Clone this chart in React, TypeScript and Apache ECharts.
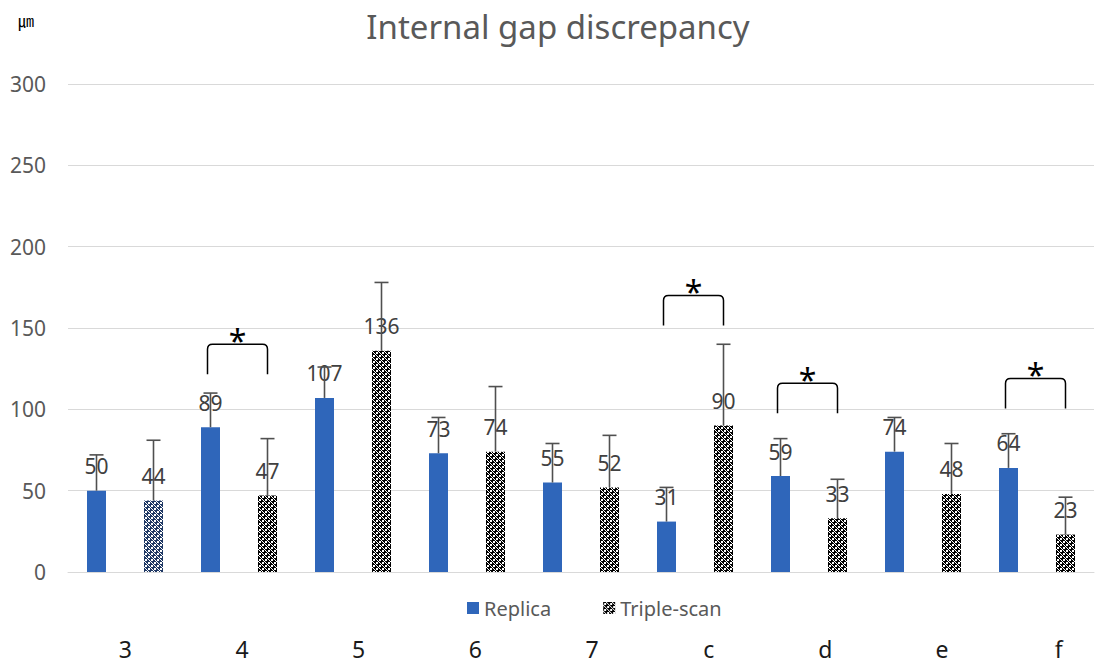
import React, { useEffect, useRef } from "react";
import * as echarts from "echarts";

const categories = ["3", "4", "5", "6", "7", "c", "d", "e", "f"];
const replica = [50, 89, 107, 73, 55, 31, 59, 74, 64];
const tripleScan = [44, 47, 136, 74, 52, 90, 33, 48, 23];
const replicaSD = [22, 21, 19, 22, 24, 21, 23, 21, 21];
const tripleScanSD = [37, 35, 42, 40, 32, 50, 24, 31, 23];
const sigIndex = [1, 5, 6, 8];
const sigBracketTop = [140, 170, 116, 119];
const yMin = 0;
const yMax = 300;
const yStep = 50;

const BAR_W = 19;
const FONT = "'Noto Sans', 'Open Sans', sans-serif";

function makePattern(ink: string): HTMLCanvasElement {
  const c = document.createElement("canvas");
  c.width = 6;
  c.height = 6;
  const ctx = c.getContext("2d")!;
  ctx.fillStyle = ink;
  ctx.fillRect(0, 0, 6, 6);
  ctx.fillStyle = "#ffffff";
  const holes = [
    [1, 1], [2, 1], [1, 2], [2, 2],
    [4, 4], [5, 4], [4, 5], [5, 5],
    [4, 1], [1, 4], [0, 3], [3, 0], [5, 2], [2, 5],
  ];
  for (const [x, y] of holes) ctx.fillRect(x, y, 1, 1);
  return c;
}

export default function App() {
  const ref = useRef<HTMLDivElement>(null);
  useEffect(() => {
    if (!ref.current) return;
    const chart = echarts.init(ref.current, undefined, { renderer: "svg" });
    const blackPat = makePattern("#000000");
    const navyPat = makePattern("#1F3864");
    const offset = BAR_W * 1.5;

    const errData: number[][] = [];
    replica.forEach((v, i) => errData.push([i, v, v + replicaSD[i], -1]));
    tripleScan.forEach((v, i) => errData.push([i, v, v + tripleScanSD[i], 1]));

    const bracketData = sigIndex.map((idx, k) => [idx, sigBracketTop[k]]);

    const option: any = {
      animation: false,
      backgroundColor: "#ffffff",
      title: {
        text: "Internal gap discrepancy",
        left: 553,
        textAlign: "center",
        top: 5,
        textStyle: { fontFamily: FONT, fontSize: 33, fontWeight: "normal", color: "#595959" },
      },
      graphic: [
        {
          type: "text",
          left: 18,
          top: 12,
          style: { text: "㎛", fontSize: 16, fill: "#000000", fontFamily: "'Noto Sans CJK KR', sans-serif" },
        },
      ],
      legend: {
        data: ["Replica", "Triple-scan"],
        left: 462,
        top: 593,
        itemWidth: 12,
        itemHeight: 12,
        itemGap: 52,
        icon: "rect",
        textStyle: { fontFamily: FONT, fontSize: 20, color: "#595959" },
      },
      grid: [
        { left: 68, right: 2, top: 84, bottom: 95 },
        { left: 67, width: 1050, top: 84, bottom: 95, outerBoundsMode: "none" },
      ],
      xAxis: [
        {
          type: "category",
          gridIndex: 0,
          data: categories,
          axisLine: { show: true, lineStyle: { color: "#D9D9D9" } },
          axisTick: { show: false },
          axisLabel: { show: false },
        },
        {
          type: "category",
          gridIndex: 1,
          data: categories,
          axisLine: { show: false },
          axisTick: { show: false },
          axisLabel: { fontFamily: FONT, fontSize: 23, color: "#1a1a1a", margin: 65 },
        },
      ],
      yAxis: [
        {
          type: "value",
          gridIndex: 0,
          min: yMin,
          max: yMax,
          interval: yStep,
          axisLine: { show: false },
          axisTick: { show: false },
          splitLine: { lineStyle: { color: "#D9D9D9", width: 1 } },
          axisLabel: { fontFamily: FONT, fontSize: 21, color: "#595959", margin: 22 },
        },
        { type: "value", gridIndex: 1, min: yMin, max: yMax, show: false },
      ],
      series: [
        {
          name: "Replica",
          type: "bar",
          barWidth: BAR_W,
          barGap: "200%",
          data: replica,
          itemStyle: { color: "#2F66BA" },
          label: {
            show: true,
            position: "top",
            distance: 14,
            fontFamily: FONT,
            fontSize: 21,
            color: "#404040",
          },
        },
        {
          name: "Triple-scan",
          type: "bar",
          barWidth: BAR_W,
          barGap: "200%",
          data: tripleScan.map((v, i) =>
            i === 0
              ? { value: v, itemStyle: { color: { image: navyPat, repeat: "repeat" } } }
              : v
          ),
          itemStyle: { color: { image: blackPat, repeat: "repeat" } },
          label: {
            show: true,
            position: "top",
            distance: 14,
            fontFamily: FONT,
            fontSize: 21,
            color: "#404040",
          },
        },
        {
          name: "err",
          type: "custom",
          z: 5,
          silent: true,
          data: errData,
          encode: { x: 0, y: [1, 2] },
          renderItem: (params: any, api: any) => {
            const i = api.value(0);
            const lo = api.coord([i, api.value(1)]);
            const hi = api.coord([i, api.value(2)]);
            const x = lo[0] + api.value(3) * offset;
            const cap = 7;
            return {
              type: "group",
              children: [
                { type: "line", shape: { x1: x, y1: lo[1], x2: x, y2: hi[1] }, style: { stroke: "#505050", lineWidth: 1.6 } },
                { type: "line", shape: { x1: x - cap, y1: hi[1], x2: x + cap, y2: hi[1] }, style: { stroke: "#505050", lineWidth: 1.6 } },
              ],
            };
          },
        },
        {
          name: "sig",
          type: "custom",
          z: 5,
          silent: true,
          data: bracketData,
          encode: { x: 0, y: 1 },
          renderItem: (params: any, api: any) => {
            const p = api.coord([api.value(0), api.value(1)]);
            const x1 = p[0] - offset - 3;
            const x2 = p[0] + offset;
            const yt = p[1];
            const yb = yt + 30;
            const r = 5;
            const d = `M${x1},${yb} L${x1},${yt + r} Q${x1},${yt} ${x1 + r},${yt} L${x2 - r},${yt} Q${x2},${yt} ${x2},${yt + r} L${x2},${yb}`;
            return {
              type: "group",
              children: [
                { type: "path", shape: { pathData: d }, style: { stroke: "#000000", lineWidth: 1.5, fill: "none" } },
                {
                  type: "text",
                  style: {
                    text: "*",
                    x: (x1 + x2) / 2,
                    y: yt - 20,
                    align: "center",
                    verticalAlign: "top",
                    fontSize: 32,
                    fontFamily: FONT,
                    fill: "#000000",
                  },
                },
              ],
            };
          },
        },
      ],
    };
    chart.setOption(option);
    return () => chart.dispose();
  }, []);
  return (
    <div
      ref={ref}
      style={{ position: "fixed", left: 0, top: 0, width: 1096, height: 667 }}
    />
  );
}
